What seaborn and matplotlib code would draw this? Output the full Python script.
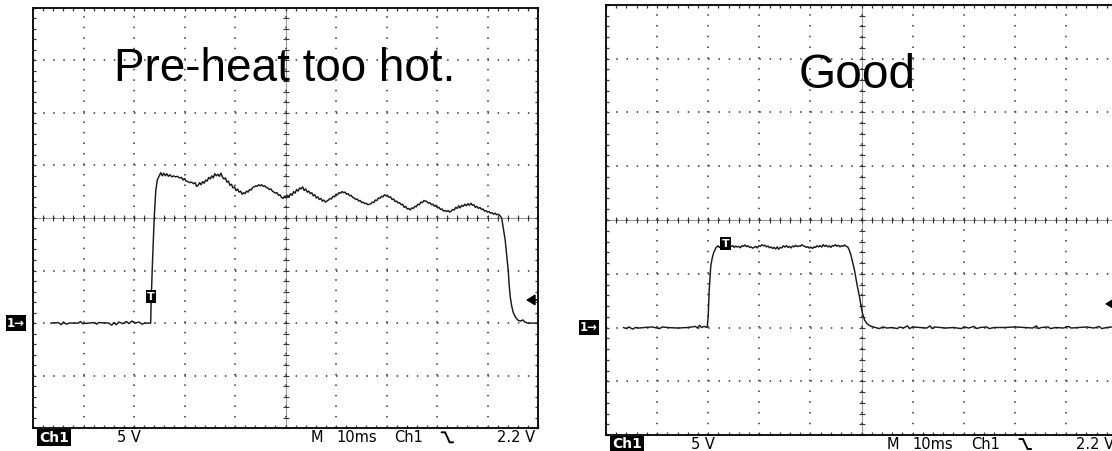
"""Two oscilloscope captures side by side: pre-heat too hot vs good."""

import matplotlib
matplotlib.use("Agg")
import matplotlib.pyplot as plt
from matplotlib.ticker import MultipleLocator
from matplotlib.transforms import blended_transform_factory
from matplotlib.lines import Line2D
import seaborn as sns

# scope settings
MS_PER_DIV = 10
VOLT_PER_DIV = 5
X_DIVS, Y_DIVS = 10, 8
GROUND_DIV = 2           # ground sits two divisions above the bottom
TRIGGER_MS = 23.4
TRIGGER_LEVEL_V = 2.2

PANEL_TITLES = ["Pre-heat too hot.", "Good"]
TITLE_SIZES = [33, 34.5]
T_MARK_V = [2.5, 7.8]    # where the "T" marker box sits on each screen

# (time ms, level V)
PREHEAT_TRACE = [
    (3.5, 0.0), (5.0, 0.05), (5.6, -0.15), (6.0, 0.1), (6.6, -0.1), (7.2, 0.0), (9.0, 0.0),
    (9.4, 0.15), (9.8, -0.05), (11.0, 0.0), (12.2, 0.05), (12.6, -0.1), (13.0, 0.05),
    (15.0, 0.0), (15.6, -0.2), (16.0, 0.05), (16.5, -0.15), (17.0, 0.1), (17.8, -0.05),
    (18.5, 0.15), (19.0, -0.05), (19.6, 0.2), (20.2, 0.0), (21.0, 0.1), (21.6, -0.1),
    (22.2, 0.0), (23.3, 0.0),
    (23.4, 2.0), (23.6, 5.0), (24.0, 10.0), (24.3, 12.5), (24.6, 13.6), (25.0, 14.0), (25.3, 14.3),
    (25.6, 14.0), (25.9, 14.25), (26.2, 14.0), (26.5, 14.2), (26.8, 13.95), (27.1, 14.1),
    (27.5, 13.9), (27.8, 14.0), (28.2, 13.9), (28.6, 13.95), (29.0, 13.8), (29.4, 13.85),
    (29.7, 13.6), (30.0, 13.75), (30.3, 13.5), (30.7, 13.45), (31.0, 13.35), (31.4, 13.4),
    (31.8, 13.25), (32.1, 13.35), (32.4, 13.0), (32.7, 13.1), (33.0, 13.35), (33.3, 13.15),
    (33.6, 13.45), (33.9, 13.3), (34.2, 13.6), (34.5, 13.5), (34.8, 13.85), (35.1, 13.7),
    (35.4, 14.0), (35.7, 13.8), (36.0, 14.2), (36.3, 14.0), (36.6, 14.15), (36.9, 13.95),
    (37.2, 14.25), (37.5, 13.9), (37.8, 13.7), (38.1, 13.8), (38.4, 13.4), (38.7, 13.5),
    (39.0, 13.1), (39.3, 13.2), (39.6, 12.85), (39.9, 12.95), (40.2, 12.6), (40.5, 12.75),
    (40.8, 12.45), (41.1, 12.55), (41.4, 12.25), (41.7, 12.4), (42.0, 12.3), (42.3, 12.55),
    (42.6, 12.45), (42.9, 12.7), (43.2, 12.65), (43.5, 12.9), (43.8, 12.95), (44.1, 13.05),
    (44.4, 13.0), (44.7, 13.15), (45.0, 13.05), (45.3, 13.15), (45.6, 13.0), (45.9, 13.05),
    (46.2, 12.9), (46.5, 12.85), (46.8, 12.7), (47.1, 12.75), (47.4, 12.55), (47.7, 12.45),
    (48.0, 12.35), (48.3, 12.4), (48.6, 12.15), (48.9, 12.2), (49.2, 11.95), (49.5, 11.85),
    (49.8, 12.05), (50.1, 11.9), (50.4, 12.15), (50.7, 12.0), (51.0, 12.3), (51.3, 12.15),
    (51.6, 12.5), (51.9, 12.35), (52.2, 12.7), (52.5, 12.55), (52.8, 12.85), (53.1, 12.75),
    (53.4, 12.95), (53.7, 12.6), (54.0, 12.75), (54.3, 12.45), (54.6, 12.55), (54.9, 12.3),
    (55.2, 12.4), (55.5, 12.1), (55.8, 12.2), (56.1, 11.9), (56.4, 12.0), (56.7, 11.75),
    (57.0, 11.85), (57.3, 11.6), (57.6, 11.7), (57.9, 11.5), (58.2, 11.6), (58.5, 11.7),
    (58.8, 11.85), (59.1, 11.8), (59.4, 12.05), (59.7, 12.0), (60.0, 12.25), (60.3, 12.2),
    (60.6, 12.4), (60.9, 12.35), (61.2, 12.5), (61.5, 12.4), (61.8, 12.45), (62.1, 12.25),
    (62.4, 12.3), (62.7, 12.1), (63.0, 12.15), (63.3, 11.95), (63.6, 11.9), (63.9, 11.75),
    (64.2, 11.8), (64.5, 11.6), (64.8, 11.65), (65.1, 11.45), (65.4, 11.5), (65.7, 11.35),
    (66.0, 11.4), (66.3, 11.25), (66.6, 11.3), (66.9, 11.35), (67.2, 11.5), (67.5, 11.45),
    (67.8, 11.7), (68.1, 11.65), (68.4, 11.9), (68.7, 11.85), (69.0, 12.05), (69.3, 12.0),
    (69.6, 12.2), (69.9, 12.1), (70.2, 12.15), (70.5, 11.95), (70.8, 12.0), (71.1, 11.75),
    (71.4, 11.8), (71.7, 11.55), (72.0, 11.6), (72.3, 11.4), (72.6, 11.45), (72.9, 11.25),
    (73.2, 11.3), (73.5, 11.0), (73.8, 11.1), (74.1, 10.85), (74.4, 10.9), (74.7, 10.75),
    (75.0, 10.95), (75.3, 10.9), (75.6, 11.1), (75.9, 11.05), (76.2, 11.3), (76.5, 11.25),
    (76.8, 11.5), (77.1, 11.45), (77.4, 11.65), (77.7, 11.6), (78.0, 11.55), (78.3, 11.4),
    (78.6, 11.45), (78.9, 11.25), (79.2, 11.3), (79.5, 11.1), (79.8, 11.2), (80.1, 10.95),
    (80.4, 11.0), (80.7, 10.8), (81.0, 10.85), (81.3, 10.65), (81.6, 10.7), (81.9, 10.6),
    (82.2, 10.7), (82.5, 10.55), (82.8, 10.65), (83.1, 10.8), (83.4, 10.75), (83.7, 11.0),
    (84.0, 10.9), (84.3, 11.15), (84.6, 10.95), (84.9, 11.2), (85.2, 11.1), (85.5, 11.3),
    (85.8, 11.15), (86.1, 11.35), (86.4, 11.2), (86.7, 11.4), (87.0, 11.2), (87.3, 11.25),
    (87.6, 11.0), (87.9, 11.1), (88.2, 10.9), (88.5, 11.0), (88.8, 10.8), (89.1, 10.85),
    (89.4, 10.65), (89.7, 10.7), (90.0, 10.55), (90.3, 10.6), (90.6, 10.45), (90.9, 10.5),
    (91.2, 10.35), (91.5, 10.45), (91.8, 10.3), (92.1, 10.35), (92.5, 10.2), (92.8, 10.0),
    (93.2, 8.8), (93.5, 7.9), (93.8, 6.5), (94.1, 5.0), (94.3, 3.6), (94.5, 2.5), (94.8, 1.6),
    (95.1, 1.0), (95.6, 0.5), (96.1, 0.25), (96.6, 0.2), (97.0, 0.3), (97.4, 0.1), (98.0, 0.0),
    (100.0, 0.0),
]

GOOD_TRACE = [
    (3.4, 0.0), (4.0, -0.1), (4.5, 0.05), (5.2, -0.15), (5.8, 0.0), (6.5, -0.05), (7.5, 0.0),
    (9.0, 0.05), (10.5, -0.1), (11.0, 0.05), (12.0, 0.0), (14.0, -0.05), (16.0, 0.0),
    (17.5, 0.1), (17.9, -0.05), (18.3, 0.2), (18.7, 0.0), (19.2, 0.1), (19.8, 0.0),
    (20.0, 1.0), (20.2, 3.5), (20.5, 5.7), (20.8, 6.5), (21.1, 7.0), (21.5, 7.4), (21.9, 7.6),
    (22.2, 7.45), (22.5, 7.6), (22.8, 7.5), (23.2, 7.65), (23.6, 7.55), (24.0, 7.6), (24.4, 7.5),
    (24.8, 7.62), (25.1, 7.45), (25.4, 7.58), (25.7, 7.48), (26.0, 7.55), (26.3, 7.42),
    (26.6, 7.6), (26.9, 7.55), (27.2, 7.68), (27.5, 7.52), (27.8, 7.6), (28.1, 7.45),
    (28.4, 7.5), (28.7, 7.38), (29.0, 7.45), (29.3, 7.55), (29.6, 7.4), (29.9, 7.6),
    (30.2, 7.55), (30.5, 7.7), (30.8, 7.6), (31.1, 7.65), (31.4, 7.5), (31.7, 7.58),
    (32.0, 7.42), (32.3, 7.5), (32.6, 7.35), (32.9, 7.45), (33.2, 7.3), (33.5, 7.5),
    (33.8, 7.28), (34.1, 7.45), (34.4, 7.4), (34.7, 7.6), (35.0, 7.48), (35.3, 7.62),
    (35.6, 7.45), (35.9, 7.55), (36.2, 7.4), (36.5, 7.58), (36.8, 7.5), (37.1, 7.65),
    (37.4, 7.52), (37.7, 7.6), (38.0, 7.55), (38.3, 7.7), (38.6, 7.6), (38.9, 7.55),
    (39.2, 7.45), (39.5, 7.52), (39.8, 7.38), (40.1, 7.48), (40.4, 7.35), (40.7, 7.5),
    (41.0, 7.45), (41.3, 7.6), (41.6, 7.5), (41.9, 7.62), (42.2, 7.48), (42.5, 7.7),
    (42.8, 7.55), (43.1, 7.65), (43.4, 7.5), (43.7, 7.6), (44.0, 7.45), (44.3, 7.62),
    (44.6, 7.58), (44.9, 7.7), (45.2, 7.55), (45.5, 7.65), (45.8, 7.5), (46.1, 7.62),
    (46.4, 7.55), (46.7, 7.68), (47.0, 7.55), (47.3, 7.5),
    (47.6, 7.2), (47.9, 6.8), (48.2, 6.2), (48.6, 5.4), (48.9, 4.6), (49.2, 3.8), (49.6, 2.9),
    (49.9, 2.0), (50.2, 1.3), (50.6, 0.7), (51.0, 0.4), (51.5, 0.2), (52.0, 0.1), (52.7, 0.0),
    (53.5, -0.1), (54.2, 0.05), (55.0, -0.05), (56.0, 0.0), (57.0, -0.1), (57.5, 0.05),
    (58.2, -0.05), (59.0, 0.15), (59.4, -0.1), (60.0, 0.05), (61.5, 0.0), (62.8, -0.05),
    (63.4, 0.15), (63.8, -0.1), (64.3, 0.05), (65.5, 0.0), (66.5, -0.05), (68.0, 0.0),
    (69.5, -0.1), (70.2, 0.05), (71.0, -0.05), (72.0, 0.1), (72.6, -0.1), (73.2, 0.0),
    (74.5, 0.05), (75.0, -0.1), (76.0, 0.0), (78.0, 0.0), (80.0, 0.05), (82.0, 0.0),
    (83.5, -0.05), (84.2, 0.15), (84.6, -0.1), (85.2, 0.0), (86.5, 0.05), (87.0, -0.1),
    (88.0, 0.0), (89.5, -0.05), (90.5, 0.1), (91.0, -0.05), (92.5, 0.0), (94.0, 0.05),
    (95.5, -0.05), (96.5, 0.1), (97.0, -0.1), (98.0, 0.0), (99.0, 0.05), (100.0, 0.0),
]

# bottom status line of the scope: (axes x, text)
STATUS_LABELS = [(0.166, "5 V"), (0.549, "M"), (0.600, "10ms"), (0.715, "Ch1")]

FIG_W, FIG_H = 1112, 451
# axes boxes in pixels: left, top, right, bottom
PANEL_BOX = [(33, 7.5, 538, 428.3), (606, 5, 1117, 435)]
TITLE_POS = [(0.4976, 0.826), (0.4906, 0.807)]

sns.set_theme(style="white")
plt.rcParams["font.family"] = ["DejaVu Sans"]
plt.rcParams["lines.scale_dashes"] = False

fig = plt.figure(figsize=(FIG_W / 100, FIG_H / 100), dpi=100)
fig.patch.set_facecolor("white")


def draw_panel(box, trace, title, title_pos, title_size, t_mark_v):
    l, t, r, b = box
    w_px, h_px = r - l, b - t
    ax = fig.add_axes([l / FIG_W, (FIG_H - b) / FIG_H, w_px / FIG_W, h_px / FIG_H])
    ax.set_facecolor("white")

    xmax = X_DIVS * MS_PER_DIV
    ymin, ymax = -GROUND_DIV * VOLT_PER_DIV, (Y_DIVS - GROUND_DIV) * VOLT_PER_DIV
    xc, yc = xmax / 2, (ymin + ymax) / 2
    ax.set_xlim(0, xmax)
    ax.set_ylim(ymin, ymax)

    ax.xaxis.set_major_locator(MultipleLocator(MS_PER_DIV))
    ax.xaxis.set_minor_locator(MultipleLocator(MS_PER_DIV / 5))
    ax.yaxis.set_major_locator(MultipleLocator(VOLT_PER_DIV))
    ax.yaxis.set_minor_locator(MultipleLocator(VOLT_PER_DIV / 5))

    # dotted graticule, one dot per minor division
    xdot = 0.72 * h_px / (Y_DIVS * 5)
    ydot = 0.72 * w_px / (X_DIVS * 5)
    ax.xaxis.grid(True, which="major", color="#444444", lw=1.2,
                  linestyle=(0, (1.1, xdot - 1.1)))
    ax.yaxis.grid(True, which="major", color="#444444", lw=1.2,
                  linestyle=(0, (1.1, ydot - 1.1)))

    ax.tick_params(which="both", direction="in", length=2.4, width=0.9, color="#333333",
                   top=True, right=True, bottom=True, left=True,
                   labelbottom=False, labelleft=False)

    # centre cross with small crossing ticks at every minor division
    ax.axhline(yc, color="#333333", lw=0.8, ls=(0, (0.72, 0.72)), zorder=2)
    ax.axvline(xc, color="#333333", lw=0.8, ls=(0, (0.72, 0.72)), zorder=2)
    cross_x = sorted(list(ax.xaxis.get_minorticklocs()) + list(ax.xaxis.get_majorticklocs()))
    cross_y = sorted(list(ax.yaxis.get_minorticklocs()) + list(ax.yaxis.get_majorticklocs()))
    ax.plot(cross_x, [yc] * len(cross_x), ls="none", marker="|", ms=4.5, mew=0.8,
            color="#333333", zorder=2)
    ax.plot([xc] * len(cross_y), cross_y, ls="none", marker="_", ms=4.5, mew=0.8,
            color="#333333", zorder=2)

    ms_vals = [p[0] for p in trace]
    v_vals = [p[1] for p in trace]
    sns.lineplot(x=ms_vals, y=v_vals, ax=ax, color="#1a1a1a", lw=1.05,
                 estimator=None, sort=False, zorder=4)

    ax.set_xlim(0, xmax)
    ax.set_ylim(ymin, ymax)
    for sp in ax.spines.values():
        sp.set_color("black")
        sp.set_linewidth(1.3)
        sp.set_visible(True)

    ax.text(title_pos[0], title_pos[1], title, transform=ax.transAxes, ha="center",
            va="baseline", fontsize=title_size, family=["Liberation Sans", "DejaVu Sans"],
            color="black", zorder=6)

    box_style = dict(facecolor="black", edgecolor="none", boxstyle="square,pad=0.12")
    # trigger point marker
    ax.text(TRIGGER_MS, t_mark_v, "T", ha="center", va="center", color="white",
            fontsize=8, fontweight="bold", bbox=box_style, zorder=7)

    mixed = blended_transform_factory(ax.transAxes, ax.transData)
    # channel ground marker
    ax.annotate("1\u2192", xy=(0, 0), xycoords=mixed, xytext=(-8, 0),
                textcoords="offset pixels", ha="right", va="center", color="white",
                fontsize=8.5, fontweight="bold", bbox=box_style, annotation_clip=False)
    # trigger level arrow
    ax.annotate("", xy=(1 - 12 / w_px, TRIGGER_LEVEL_V), xycoords=mixed,
                xytext=(1.0, TRIGGER_LEVEL_V), textcoords=mixed,
                arrowprops=dict(arrowstyle="-|>,head_length=0.45,head_width=0.28",
                                color="black", lw=1.1, shrinkA=0, shrinkB=0),
                annotation_clip=False, zorder=7)

    # status line under the screen
    y_lab = -9.5 / h_px
    ax.text(0.012, y_lab, "Ch1", transform=ax.transAxes, ha="left", va="center",
            color="white", fontsize=10, fontweight="bold", bbox=box_style, clip_on=False)
    for xf, s in STATUS_LABELS:
        ax.text(xf, y_lab, s, transform=ax.transAxes, ha="left", va="center",
                color="black", fontsize=10.5, clip_on=False)
    ax.text(0.994, y_lab, f"{TRIGGER_LEVEL_V} V", transform=ax.transAxes, ha="right",
            va="center", color="black", fontsize=10.5, clip_on=False)
    # falling-edge slope glyph
    gx = [0.809, 0.816, 0.825, 0.832]
    gy = [-4 / h_px, -4 / h_px, -14 / h_px, -14 / h_px]
    ax.add_line(Line2D(gx, gy, transform=ax.transAxes, color="black", lw=1.4,
                       clip_on=False))
    return ax


for box, trace, title, tpos, tsize, tv in zip(PANEL_BOX, [PREHEAT_TRACE, GOOD_TRACE],
                                              PANEL_TITLES, TITLE_POS, TITLE_SIZES,
                                              T_MARK_V):
    draw_panel(box, trace, title, tpos, tsize, tv)

fig.savefig("out.png", dpi=100, facecolor="white")
